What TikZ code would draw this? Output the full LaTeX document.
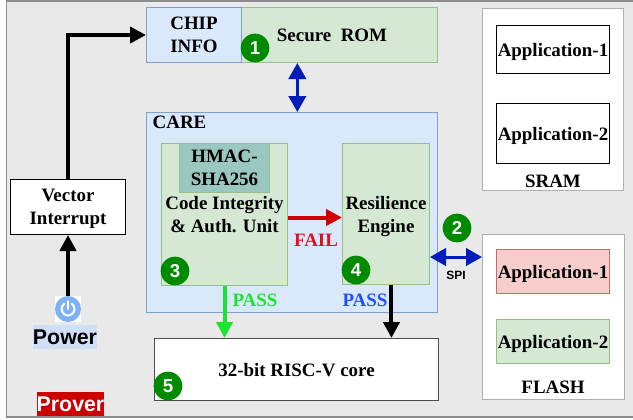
\documentclass[tikz,border=0pt]{standalone}
\usepackage{fontspec}
\setmainfont{Liberation Serif}
\setsansfont{Liberation Sans}
\usepackage{xcolor}
\usetikzlibrary{arrows.meta}
\definecolor{rsGray}{HTML}{E9E9E9}
\definecolor{rsEdge}{HTML}{8C8C8C}
\definecolor{rsBlue}{HTML}{DAE8FC}
\definecolor{rsBlueEdge}{HTML}{7E9FCB}
\definecolor{rsGreen}{HTML}{D5E8D4}
\definecolor{rsGreenEdge}{HTML}{97BF83}
\definecolor{rsTeal}{HTML}{9AC7BF}
\definecolor{rsRose}{HTML}{F8CECC}
\definecolor{rsRoseEdge}{HTML}{C66D69}
\definecolor{rsBadge}{HTML}{008A00}
\definecolor{rsLink}{HTML}{001DBC}
\definecolor{rsPass}{HTML}{19E62B}
\definecolor{rsPassBlue}{HTML}{1F4FFF}
\definecolor{rsFail}{HTML}{CC0000}
\definecolor{rsFailText}{HTML}{DD1122}
\definecolor{rsIcon}{HTML}{7EB0F5}
\definecolor{rsLabel}{HTML}{CFDFF5}
\tikzset{
    base/.style={
        font=\fontsize{14.2}{17.25}\selectfont\bfseries,
        align=center,
        text depth=0pt,
        inner sep=0pt
    },
    wh/.style 2 args={
        anchor=north west,
        minimum width=#1*0.75pt,
        minimum height=#2*0.75pt
    },
    block/.style={
        base,
        rectangle,
        draw=black,
        line width=0.75pt,
        fill=white
    },
    bluebox/.style={
        block,
        draw=rsBlueEdge,
        fill=rsBlue
    },
    greenbox/.style={
        block,
        draw=rsGreenEdge,
        fill=rsGreen
    },
    memory/.style={
        block,
        draw=rsEdge!70!white
    },
    badge/.style={
        circle,
        fill=rsBadge,
        text=white,
        font=\fontsize{14}{14}\sffamily\bfseries,
        inner sep=0pt,
        minimum size=21.5pt
    },
    caption/.style={
        base,
        anchor=center
    },
    flow/.style={
        -{Triangle[length=12pt,width=12pt]},
        line width=3pt,
        color=black
    },
    twoway/.style={
        {Triangle[length=12pt,width=13pt]}-{Triangle[length=12pt,width=13pt]},
        line width=2.25pt,
        color=rsLink
    },
    tag/.style={
        font=\fontsize{16}{16}\sffamily\bfseries,
        inner sep=0pt,
        minimum height=18pt
    }
}
\begin{document}
\begin{tikzpicture}[x=0.75pt,y=-0.75pt]
    % Frame
    \useasboundingbox (0,0) rectangle (633,419);
    \fill[rsGray] (6.5,1) rectangle (640,417);
    \draw[rsEdge,line width=0.9pt] (640,1) -- (6.5,1) -- (6.5,417) -- (640,417);

    % ROM
    \node[greenbox,wh={196}{55}] (rom) at (241,7) {};
    \node[bluebox,wh={95}{55}] (chip) at (146,7) {CHIP\\INFO};
    \node[caption] (romtext) at (332,35) {Secure\ \ ROM};

    % CARE
    \node[bluebox,wh={291}{200}] (care) at (146,112) {};
    \node[caption] (caretext) at (179.5,122) {CARE};
    \node[greenbox,wh={126}{142}] (unit) at (161,143) {Code Integrity\\\& Auth. Unit};
    \node[greenbox,draw=rsGreenEdge,fill=rsTeal,wh={90}{49}] (hmac) at (179,143) {HMAC-\\SHA256};
    \node[greenbox,wh={87}{141}] (engine) at (342,143) {Resilience\\Engine};

    % Left column
    \node[block,wh={115}{55}] (vector) at (10,179) {Vector\\Interrupt};
    \node[fill=white,minimum size=19.5pt,inner sep=0pt] (power) at (68,309) {};
    \fill[rsIcon] (power.center) circle (9.75pt);
    \draw[white,line width=1.5pt,line cap=round] ([shift={(55:4.8pt)}]power.center) arc (55:-235:4.8pt);
    \draw[white,line width=1.5pt,line cap=round] (power.center) -- ([yshift=6pt]power.center);
    \node[tag,fill=rsLabel,minimum width=47pt] (powertext) at (65,337) {Power};
    \node[tag,fill=rsFail,text=white,minimum width=50pt] (prover) at (70.5,404) {Prover};

    % Core
    \node[block,draw=black!70,wh={284}{62}] (core) at (154,338) {32-bit RISC-V core};

    % SRAM
    \node[memory,wh={141}{182}] (sram) at (482,8) {};
    \node[block,wh={113}{48}] (sramone) at (496,25) {Application-1};
    \node[block,wh={113}{60}] (sramtwo) at (496,103) {Application-2};
    \node[caption] (sramtext) at (553,181) {SRAM};

    % FLASH
    \node[memory,wh={142}{165}] (flash) at (482,234) {};
    \node[block,draw=rsRoseEdge,fill=rsRose,wh={113}{44}] (flashone) at (496,249) {Application-1};
    \node[greenbox,wh={113}{44}] (flashtwo) at (496,319) {Application-2};
    \node[caption] (flashtext) at (553,387) {FLASH};

    % Links
    \draw[flow] (power.north) -- (vector.south);
    \draw[flow,line join=miter] (vector.north -| power.north) |- (chip.west);
    \draw[twoway] ([xshift=4pt]care.north) -- ([xshift=4pt]care.north |- rom.south);
    \draw[twoway] ([yshift=21pt]engine.south east) -- ([yshift=21pt]engine.south east -| flash.west);
    \draw[flow,color=rsFail] ([yshift=-2.25pt]unit.east) -- ([yshift=-2.25pt]unit.east -| engine.west);
    \draw[flow,color=rsPass] (unit.south) -- (unit.south |- core.north);
    \draw[flow] ([xshift=4.1pt]engine.south) -- ([xshift=4.1pt]engine.south |- core.north);

    % Link labels
    \node[caption,text=rsFailText] (failtext) at (316,240) {FAIL};
    \node[caption,text=rsPass] (passleft) at (255,300) {PASS};
    \node[caption,text=rsPassBlue] (passright) at (365,300) {PASS};
    \node[font=\fontsize{9}{9}\sffamily\bfseries,inner sep=0pt] (spi) at (456,275) {SPI};

    % Badges
    \node[badge] (one) at (255,48) {1};
    \node[badge] (two) at (457,228) {2};
    \node[badge] (three) at (175,271) {3};
    \node[badge] (four) at (356,270) {4};
    \node[badge] (five) at (168,386) {5};
\end{tikzpicture}
\end{document}
